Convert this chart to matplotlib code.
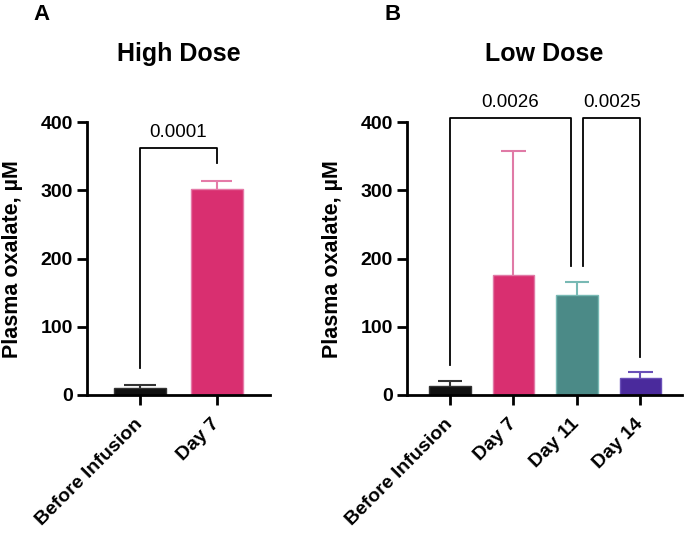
import matplotlib.pyplot as plt

plt.rcParams['font.family'] = ['Liberation Sans', 'DejaVu Sans']

# panel A - high dose
high_labels = ['Before Infusion', 'Day 7']
high_means = [10, 302]
high_err = [5, 11]
high_colors = ['#111111', '#d92f70']
high_errcolors = ['#333333', '#e57aa8']

# panel B - low dose
low_labels = ['Before Infusion', 'Day 7', 'Day 11', 'Day 14']
low_means = [13, 176, 147, 25]
low_err = [8, 182, 19, 9]
low_colors = ['#111111', '#d92f70', '#4b8a87', '#4a2a9c']
low_errcolors = ['#333333', '#e07aa6', '#78b9b4', '#6a50b8']

# significance brackets: (left idx, right idx, top, left leg end, right leg end, p text)
high_brackets = [(0, 1, 362, 40, 340, '0.0001')]
low_brackets = [(0, 2, 406, 44, 189, '0.0026'),
                (2, 3, 406, 189, 56, '0.0025')]

fig = plt.figure(figsize=(6.85, 5.35), dpi=100)
axA = fig.add_axes([0.127, 0.2617, 0.267, 0.510])
axB = fig.add_axes([0.594, 0.2617, 0.402, 0.510])


def draw_panel(ax, labels, means, err, colors, errcolors, brackets, title, width, xlim, offs, labx):
    x = list(range(len(labels)))
    for xi, m, e, c, ec in zip(x, means, err, colors, errcolors):
        ax.vlines(xi, m, m + e, color=ec, lw=1.5, zorder=1)
        ax.hlines(m + e, xi - width * 0.3, xi + width * 0.3, color=ec, lw=1.5, zorder=1)
        ax.bar(xi, m, width=width, color=c, edgecolor=ec, lw=1, zorder=2)
    for (l, r, top, yl, yr, txt), (ol, orr) in zip(brackets, offs):
        xl = l + ol
        xr = r + orr
        ax.plot([xl, xl, xr, xr], [yl, top, top, yr], color='black', lw=1.3,
                clip_on=False, zorder=3)
        ax.text((xl + xr) / 2, top + 11, txt, ha='center', va='bottom', fontsize=13.5)
    ax.set_ylim(0, 400)
    ax.set_xlim(*xlim)
    ax.set_yticks([0, 100, 200, 300, 400])
    ax.set_xticks(x)
    ax.set_xticklabels(labels, rotation=45, ha='right', va='center', rotation_mode='anchor',
                       fontsize=14, fontweight='bold')
    for t in ax.get_yticklabels():
        t.set_fontweight('bold')
        t.set_fontsize(14)
    ax.spines['top'].set_visible(False)
    ax.spines['right'].set_visible(False)
    ax.spines['left'].set_linewidth(2)
    ax.spines['bottom'].set_linewidth(2)
    ax.tick_params(direction='out', length=7, width=2, pad=3)
    ax.tick_params(axis='x', pad=12)
    ax.set_ylabel('Plasma oxalate, µM', fontsize=15.5, fontweight='bold')
    ax.yaxis.set_label_coords(labx, 0.5)
    ax.set_title(title, fontsize=18, fontweight='bold', pad=44)


draw_panel(axA, high_labels, high_means, high_err, high_colors, high_errcolors,
           high_brackets, 'High Dose', 0.675, (-0.69, 1.69), [(0, 0)], -0.35)
draw_panel(axB, low_labels, low_means, low_err, low_colors, low_errcolors,
           low_brackets, 'Low Dose', 0.65, (-0.68, 3.66), [(0, -0.1), (0.1, 0)], -0.233)

fig.text(0.061, 0.972, 'A', fontsize=16, fontweight='bold', ha='center', va='center')
fig.text(0.573, 0.972, 'B', fontsize=16, fontweight='bold', ha='center', va='center')

fig.savefig('out.png', dpi=100)
